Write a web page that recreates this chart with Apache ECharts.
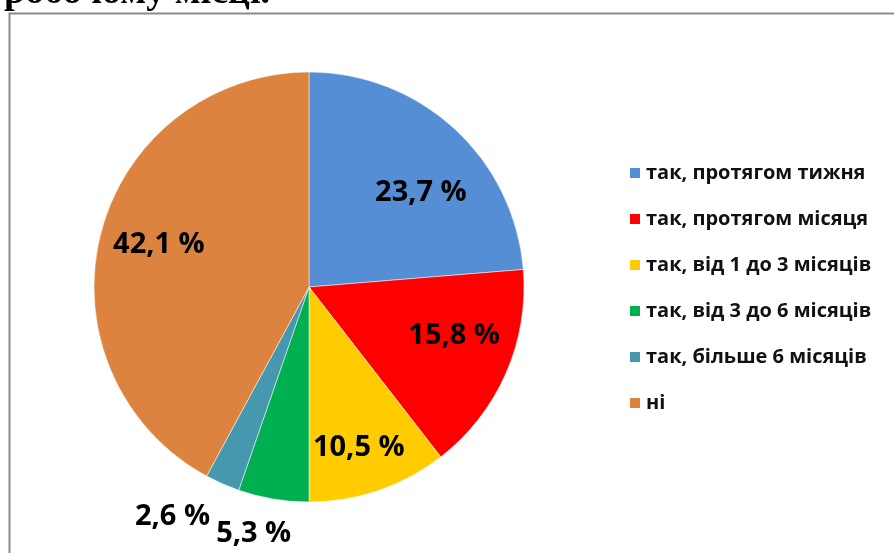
<!DOCTYPE html>
<html>
<head>
<meta charset="utf-8">
<script src="https://cdn.jsdelivr.net/npm/echarts@6/dist/echarts.min.js"></script>
<style>
  html, body { margin: 0; padding: 0; background: #fff; }
  #chart { width: 894px; height: 553px; }
</style>
</head>
<body>
<div id="chart"></div>
<script>
// дані діаграми
const categories = ['так, протягом тижня', 'так, протягом місяця', 'так, від 1 до 3 місяців',
    'так, від 3 до 6 місяців', 'так, більше 6 місяців', 'ні'];
const values = [23.7, 15.8, 10.5, 5.3, 2.6, 42.1];
const colors = ['#558ED5', '#FF0000', '#FFCC00', '#00B050', '#4598AE', '#DC843F'];
// зсув підписів відносно стандартної позиції 'inside'
const labelShift = [[37, -13], [44, 4], [14, 56], [-37, 138], [-92, 129], [-43, -15]];

const chart = echarts.init(document.getElementById('chart'), null, { renderer: 'canvas' });
chart.setOption({
    backgroundColor: '#fff',
    animation: false,
    graphic: [
        { type: 'rect', left: 7, top: 11, shape: { width: 900, height: 560 },
          style: { fill: 'none', stroke: '#8c8c8c', lineWidth: 2 }, z: 0 },
        { type: 'text', x: 4, y: 12,
          style: { text: 'робочому місці.', font: 'bold 38px "Liberation Serif", serif',
                   fill: '#000', textVerticalAlign: 'bottom' }, z: 1 }
    ],
    legend: {
        orient: 'vertical', left: 623, top: 158, itemWidth: 12, itemHeight: 12, itemGap: 26,
        icon: 'rect',
        textStyle: { fontFamily: '"Open Sans", sans-serif', fontWeight: 'bold', fontSize: 20,
                     color: '#111', lineHeight: 20 },
        data: categories
    },
    series: [{
        type: 'pie',
        center: [309, 287],
        radius: [0, 215],
        startAngle: 90,
        clockwise: true,
        silent: true,
        itemStyle: { borderColor: '#fff', borderWidth: 0.5 },
        label: {
            show: true, position: 'inside',
            fontFamily: '"Open Sans", sans-serif', fontWeight: 'bold', fontSize: 29, color: '#000',
            formatter: p => String(p.value).replace('.', ',') + ' %'
        },
        labelLine: { show: false },
        labelLayout: p => ({ dx: labelShift[p.dataIndex][0], dy: labelShift[p.dataIndex][1] }),
        data: categories.map((c, i) => ({ name: c, value: values[i], itemStyle: { color: colors[i] } }))
    }]
});
</script>
</body>
</html>
